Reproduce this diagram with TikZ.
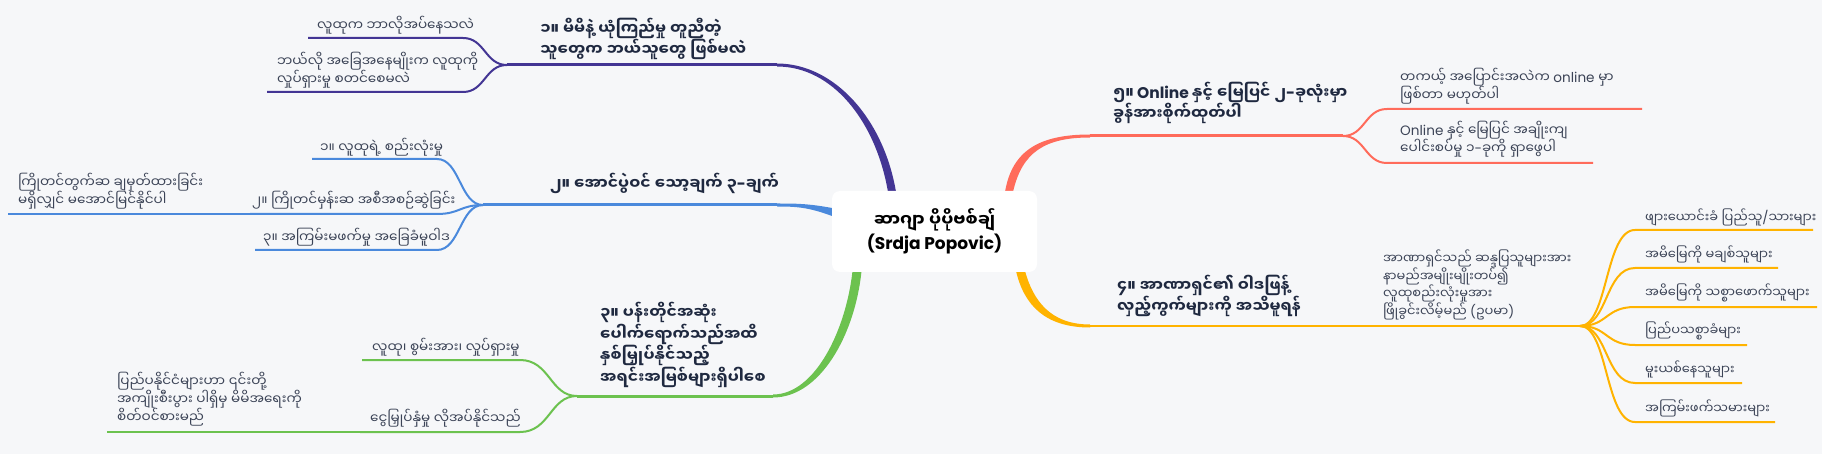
\documentclass[tikz,border=0pt]{standalone}
\usepackage{fontspec}
\setmainfont{Poppins}
\newfontfamily\myfont[Script=Myanmar]{Noto Sans Myanmar UI}
\newcommand\mm[1]{{\myfont #1}}
\definecolor{bg}{HTML}{F6F7F9}
\definecolor{pur}{HTML}{433594}
\definecolor{blu}{HTML}{4A89DC}
\definecolor{grn}{HTML}{6CC24F}
\definecolor{redb}{HTML}{FF6B5B}
\definecolor{yel}{HTML}{FFB300}
\definecolor{mtext}{HTML}{1F2940}
\definecolor{ctext}{HTML}{3C4457}
\tikzset{
  mainlbl/.style={inner sep=0pt, anchor=west, align=left, text=mtext, font=\fontsize{15.5}{20}\selectfont\bfseries},
  sublbl/.style={inner sep=0pt, anchor=west, align=left, text=ctext, font=\fontsize{13.6}{18}\selectfont},
  leaflbl/.style={inner sep=0pt, anchor=west, align=left, text=ctext, font=\fontsize{13}{18}\selectfont},
  mainln/.style={line width=3pt},
  subln/.style={line width=2pt},
}
\begin{document}
\begin{tikzpicture}[x=1pt,y=-1pt]
\useasboundingbox (0,0) rectangle (1822,454);
\fill[bg] (0,0) rectangle (1822,454);

% ---------- tapered main branches ----------
\fill[pur] (896,192) .. controls (884,120) and (835,63.5) .. (777,63.5) -- (777,66.5) .. controls (833,66.5) and (876,122) .. (888,192) -- cycle;
\fill[blu] (832,208) .. controls (808,203.5) and (795,203.5) .. (777,203.5) -- (777,206.5) .. controls (795,206.5) and (808,207) .. (832,216) -- cycle;
\fill[grn] (861.5,271) .. controls (855,335) and (820,397.5) .. (773,397.5) -- (773,394.5) .. controls (815,394.5) and (846,330) .. (852.5,271) -- cycle;
\fill[redb] (1005,192) .. controls (1012,150) and (1040,134.5) .. (1090,134.5) -- (1090,137.5) .. controls (1045,137.5) and (1022,152) .. (1013,192) -- cycle;
\fill[yel] (1016,271) .. controls (1024,305) and (1045,327.5) .. (1090,327.5) -- (1090,324.5) .. controls (1050,324.5) and (1033,300) .. (1025,271) -- cycle;

% ---------- centre ----------
\node[fill=white, rounded corners=8pt, minimum width=205pt, minimum height=81pt, inner sep=0pt, align=center, text=black, font=\fontsize{17}{23}\selectfont\bfseries] (c) at (934.5,231.5) {\mm{ဆာဂျာ ပိုပိုဗစ်ချ်}\\(Srdja Popovic)};

% ---------- purple ----------
\coordinate (pe) at (777,65);
\coordinate (pb) at (507,65);
\draw[pur,mainln] (pe) -- (pb);
\node[mainlbl] (pm) at (540,39) {\mm{၁။ မိမိနဲ့ ယုံကြည်မှု တူညီတဲ့}\\\mm{သူတွေက ဘယ်သူတွေ ဖြစ်မလဲ}};
\node[sublbl] (p1) at (317,25) {\mm{လူထုက ဘာလိုအပ်နေသလဲ}};
\node[sublbl] (p2) at (277,70) {\mm{ဘယ်လို အခြေအနေမျိုးက လူထုကို}\\\mm{လှုပ်ရှားမှု စတင်စေမလဲ}};
\coordinate (p1r) at (463,38); \coordinate (p1l) at (308,38);
\coordinate (p2r) at (463,92); \coordinate (p2l) at (267,92);
\draw[pur,subln] (pb) .. controls (485,65) and (485,38) .. (p1r) -- (p1l);
\draw[pur,subln] (pb) .. controls (485,65) and (485,92) .. (p2r) -- (p2l);

% ---------- blue ----------
\coordinate (be) at (777,205);
\coordinate (bb) at (483,205);
\draw[blu,mainln] (be) -- (bb);
\node[mainlbl] (bm) at (550,183) {\mm{၂။ အောင်ပွဲဝင် သော့ချက် ၃}-\mm{ချက်}};
\node[sublbl] (b1) at (320,147) {\mm{၁။ လူထုရဲ့ စည်းလုံးမှု}};
\node[sublbl] (b2) at (252,200) {\mm{၂။ ကြိုတင်မှန်းဆ အစီအစဉ်ဆွဲခြင်း}};
\node[sublbl] (b2a) at (18,191) {\mm{ကြိုတင်တွက်ဆ ချမှတ်ထားခြင်း}\\\mm{မရှိလျှင် မအောင်မြင်နိုင်ပါ}};
\node[sublbl] (b3) at (263,237) {\mm{၃။ အကြမ်းမဖက်မှု အခြေခံမူဝါဒ}};
\coordinate (b1r) at (437,159); \coordinate (b1l) at (312,159);
\coordinate (b2r) at (437,214); \coordinate (b2l) at (250,214); \coordinate (b2al) at (8,214);
\coordinate (b3r) at (437,250); \coordinate (b3l) at (255,250);
\draw[blu,subln] (bb) .. controls (460,205) and (460,159) .. (b1r) -- (b1l);
\draw[blu,subln] (bb) .. controls (460,205) and (460,214) .. (b2r) -- (b2l);
\draw[blu,subln] (b2l) -- (b2al);
\draw[blu,subln] (bb) .. controls (460,205) and (460,250) .. (b3r) -- (b3l);

% ---------- green ----------
\coordinate (ge) at (773,396);
\coordinate (gb) at (577,396);
\draw[grn,mainln] (ge) -- (gb);
\node[mainlbl] (gm) at (600,345) {\mm{၃။ ပန်းတိုင်အဆုံး}\\\mm{ပေါက်ရောက်သည်အထိ}\\\mm{နှစ်မြှုပ်နိုင်သည့်}\\\mm{အရင်းအမြစ်များရှိပါစေ}};
\node[sublbl] (g1) at (372,347) {\mm{လူထု၊ စွမ်းအား၊ လှုပ်ရှားမှု}};
\node[sublbl] (g2) at (370,418) {\mm{ငွေမြှုပ်နှံမှု လိုအပ်နိုင်သည်}};
\node[sublbl] (g2a) at (117,399) {\mm{ပြည်ပနိုင်ငံများဟာ ၎င်းတို့}\\\mm{အကျိုးစီးပွား ပါရှိမှ မိမိအရေးကို}\\\mm{စိတ်ဝင်စားမည်}};
\coordinate (g1r) at (520,360); \coordinate (g1l) at (362,360);
\coordinate (g2r) at (520,432); \coordinate (g2l) at (360,432); \coordinate (g2al) at (107,432);
\draw[grn,subln] (gb) .. controls (550,396) and (550,360) .. (g1r) -- (g1l);
\draw[grn,subln] (gb) .. controls (550,396) and (550,432) .. (g2r) -- (g2l);
\draw[grn,subln] (g2l) -- (g2al);

% ---------- red ----------
\coordinate (re) at (1090,136);
\coordinate (rb) at (1343,136);
\draw[redb,mainln] (re) -- (rb);
\node[mainlbl] (rm) at (1113,103) {\mm{၅။} Online \mm{နှင့် မြေပြင် ၂}-\mm{ခုလုံးမှာ}\\\mm{ခွန်အားစိုက်ထုတ်ပါ}};
\node[sublbl] (r1) at (1400,86) {\mm{တကယ့် အပြောင်းအလဲက} online \mm{မှာ}\\\mm{ဖြစ်တာ မဟုတ်ပါ}};
\node[sublbl] (r2) at (1400,139) {Online \mm{နှင့် မြေပြင် အချိုးကျ}\\\mm{ပေါင်းစပ်မှု ၁}-\mm{ခုကို ရှာဖွေပါ}};
\coordinate (r1l) at (1387,109); \coordinate (r1r) at (1642,109);
\coordinate (r2l) at (1387,163); \coordinate (r2r) at (1593,163);
\draw[redb,subln] (rb) .. controls (1365,136) and (1365,109) .. (r1l) -- (r1r);
\draw[redb,subln] (rb) .. controls (1365,136) and (1365,163) .. (r2l) -- (r2r);

% ---------- yellow ----------
\coordinate (ye) at (1090,326);
\coordinate (yb) at (1580,326);
\draw[yel,line width=2.6pt] (ye) -- (yb);
\node[mainlbl] (ym) at (1117,296) {\mm{၄။ အာဏာရှင်၏ ဝါဒဖြန့်}\\\mm{လှည့်ကွက်များကို အသိမူရန်}};
\node[leaflbl, font=\fontsize{13}{17.5}\selectfont] (y0) at (1383,285) {\mm{အာဏာရှင်သည် ဆန္ဒပြသူများအား}\\\mm{နာမည်အမျိုးမျိုးတပ်၍}\\\mm{လူထုစည်းလုံးမှုအား}\\\mm{ဖြိုခွင်းလိမ့်မည်} (\mm{ဥပမာ})};
\node[leaflbl] (y1) at (1645,217) {\mm{ဖျားယောင်းခံ ပြည်သူ}/\mm{သားများ}};
\node[leaflbl] (y2) at (1645,254) {\mm{အမိမြေကို မချစ်သူများ}};
\node[leaflbl] (y3) at (1645,293) {\mm{အမိမြေကို သစ္စာဖောက်သူများ}};
\node[leaflbl] (y4) at (1645,331) {\mm{ပြည်ပသစ္စာခံများ}};
\node[leaflbl] (y5) at (1645,369) {\mm{မူးယစ်နေသူများ}};
\node[leaflbl] (y6) at (1645,408) {\mm{အကြမ်းဖက်သမားများ}};
\foreach \k/\yy/\xr in {1/230/1813,2/268/1778,3/307/1817,4/345/1747,5/383/1742,6/422/1775}{
  \coordinate (y\k l) at (1635,\yy);
  \coordinate (y\k r) at (\xr,\yy);
  \draw[yel,subln] (yb) .. controls (1608,326) and (1605,\yy) .. (y\k l) -- (y\k r);
}
\end{tikzpicture}
\end{document}
